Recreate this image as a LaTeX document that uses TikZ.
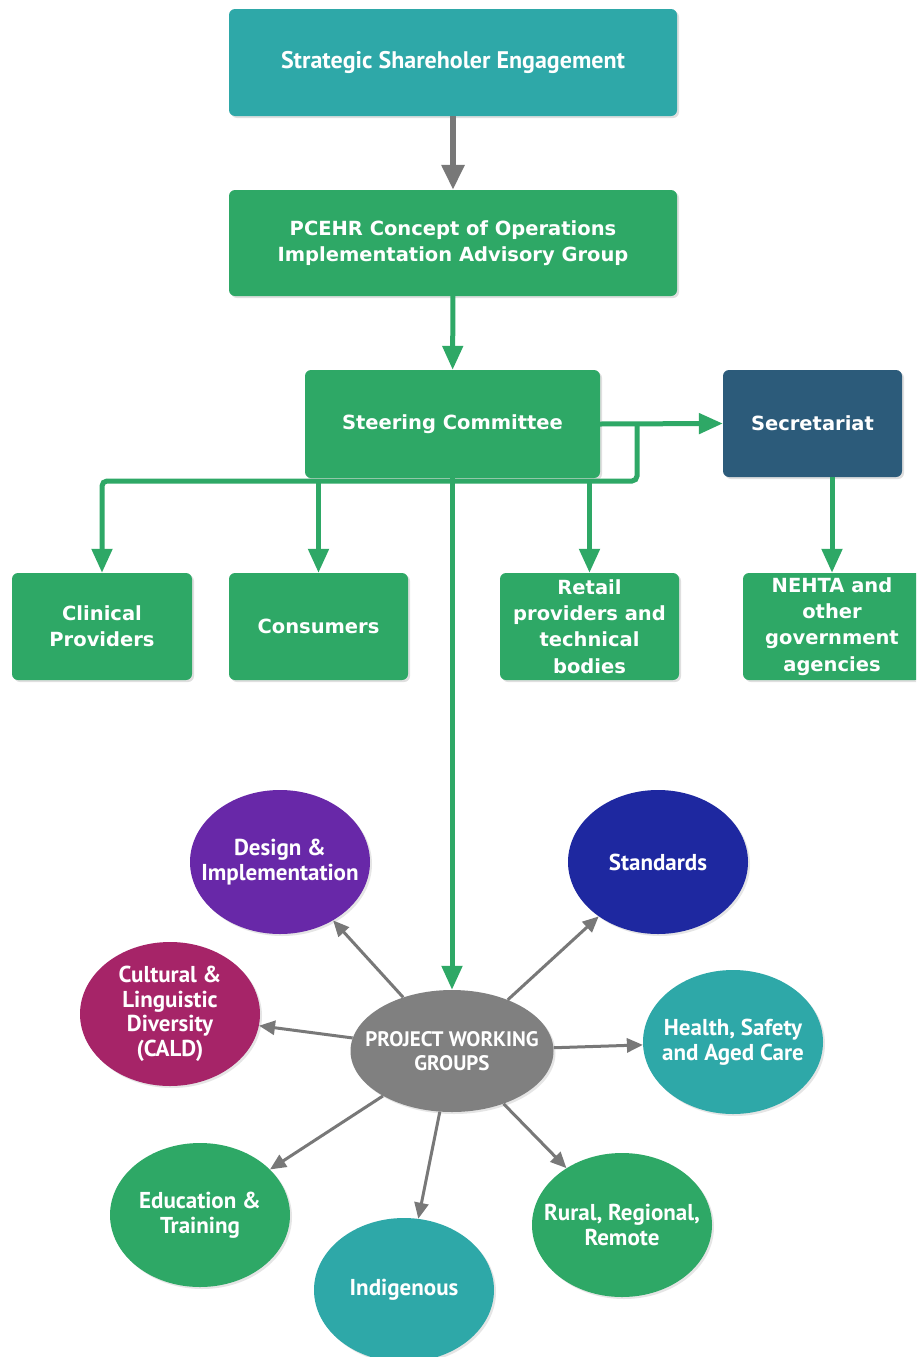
\documentclass[tikz,border=0pt]{standalone}
\usepackage{fontspec}
\setmainfont{PT Sans}
\newfontfamily\boxfont{DejaVu Sans}
\newfontfamily\circfont{PT Sans}
\usetikzlibrary{arrows.meta,shapes.geometric,shadows}
\definecolor{bgreen}{RGB}{46,168,102}
\definecolor{bteal}{RGB}{46,168,168}
\definecolor{bnavy}{RGB}{44,91,122}
\definecolor{cpurple}{RGB}{104,40,168}
\definecolor{cblue}{RGB}{30,40,160}
\definecolor{cmagenta}{RGB}{166,36,104}
\definecolor{cgray}{RGB}{128,128,128}
\definecolor{agray}{RGB}{120,120,120}
\tikzset{
  box/.style={rectangle, rounded corners=6pt, text=white, align=center,
    font=\boxfont\bfseries\fontsize{19.5}{26.3}\selectfont,
    drop shadow={opacity=0.25, shadow xshift=2pt, shadow yshift=-2pt}},
  blob/.style={ellipse, inner sep=0pt,
    minimum width=180pt, minimum height=144pt,
    drop shadow={opacity=0.2, shadow xshift=2pt, shadow yshift=-2pt}},
  blobtext/.style={text=white, align=center, inner sep=0pt,
    font=\circfont\bfseries\fontsize{23}{24.5}\selectfont},
  glink/.style={draw=bgreen, line width=5pt, rounded corners=5pt},
  garrow/.style={glink, -{Triangle[width=20pt,length=24pt]}},
  toparrow/.style={draw=agray, line width=6pt, -{Triangle[width=22pt,length=25pt]}},
  spoke/.style={draw=agray, line width=3pt, -{Triangle[width=14pt,length=16pt]}},
}
\begin{document}
\begin{tikzpicture}[x=1pt,y=-1pt]
\clip (0,0) rectangle (916,1357);
\fill[white] (0,0) rectangle (916,1357);
% boxes
\node[box, fill=bteal, minimum width=448pt, minimum height=107pt,
  font=\circfont\bfseries\fontsize{24}{26}\selectfont] (sse) at (453,62.5) {Strategic Shareholer Engagement};
\node[box, fill=bgreen, minimum width=448pt, minimum height=106pt] (iag) at (453,243)
  {PCEHR Concept of Operations\\Implementation Advisory Group};
\node[box, fill=bgreen, minimum width=295pt, minimum height=108pt] (steer) at (452.5,424) {Steering Committee};
\node[box, fill=bnavy, minimum width=179pt, minimum height=107pt] (secr) at (812.5,423.5) {Secretariat};
\node[box, fill=bgreen, minimum width=180pt, minimum height=107pt] (clin) at (102,626.5) {Clinical\\Providers};
\node[box, fill=bgreen, minimum width=179pt, minimum height=107pt] (cons) at (318.5,626.5) {Consumers};
\node[box, fill=bgreen, minimum width=179pt, minimum height=107pt] (retail) at (589.5,626.5) {Retail\\providers and\\technical\\bodies};
\node[box, fill=bgreen, minimum width=178pt, minimum height=107pt] (nehta) at (832,626.5) {NEHTA and\\other\\government\\agencies};
% circles
\node[blob, fill=cpurple, label={[blobtext]center:{Design \&\\Implementation}}] (design) at (280,862) {};
\node[blob, fill=cblue, label={[blobtext]center:{Standards}}] (stand) at (658,862) {};
\node[blob, fill=cmagenta, label={[blobtext]center:{Cultural \&\\Linguistic\\Diversity\\(CALD)}}] (cald) at (170,1014) {};
\node[blob, fill=bteal, label={[blobtext]center:{Health, Safety\\and Aged Care}}] (health) at (733,1042) {};
\node[blob, fill=bgreen, label={[blobtext]center:{Education \&\\Training}}] (edu) at (200,1215) {};
\node[blob, fill=bgreen, label={[blobtext]center:{Rural, Regional,\\Remote}}] (rural) at (622,1225) {};
\node[blob, fill=bteal, label={[blobtext]center:{Indigenous}}] (indig) at (404,1290) {};
\node[blob, fill=cgray, minimum width=203pt, minimum height=122pt,
  label={[blobtext, font=\circfont\bfseries\fontsize{21}{23.5}\selectfont]center:{PROJECT WORKING\\GROUPS}}] (pwg) at (452,1051) {};
% top connectors
\draw[toparrow] (sse) -- (iag);
\draw[garrow] (iag) -- (steer);
\coordinate (j1) at (637,424);
\coordinate (j2) at (637,481);
\draw[garrow] (steer.east) -- (secr.west);
\draw[garrow] (j1) -- (j2) -| (clin.north);
\draw[garrow] (cons.north |- j2) -- (cons.north);
\draw[garrow] (retail.north |- j2) -- (retail.north);
\draw[garrow] (nehta.north |- secr.south) -- (nehta.north);
\draw[garrow] (steer.south -| pwg.north) -- (pwg.north);
% spokes
\draw[spoke] (pwg) -- (design);
\draw[spoke] (pwg) -- (stand);
\draw[spoke] (pwg) -- (cald);
\draw[spoke] (pwg) -- (health);
\draw[spoke] (pwg) -- (edu);
\draw[spoke] (pwg) -- (indig);
\draw[spoke] (pwg) -- (rural);
\end{tikzpicture}
\end{document}
